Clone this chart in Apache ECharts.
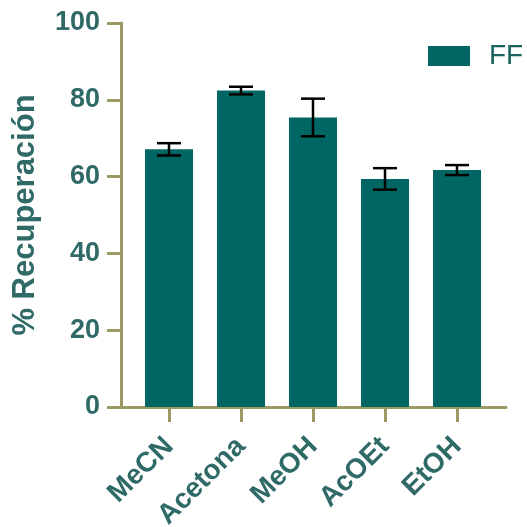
<!DOCTYPE html>
<html>
<head>
<meta charset="utf-8">
<script src="https://cdn.jsdelivr.net/npm/echarts@6/dist/echarts.min.js"></script>
<style>
  html, body { margin: 0; padding: 0; background: #ffffff; }
  #chart { width: 527px; height: 527px; }
</style>
</head>
<body>
<div id="chart"></div>
<script>
// Solvent extraction recovery (mean ± SD)
const categories = ['MeCN', 'Acetona', 'MeOH', 'AcOEt', 'EtOH'];
const recovery = [67.1, 82.4, 75.4, 59.4, 61.7];
const errorSD = [1.6, 1.0, 4.9, 2.8, 1.3];
const yTicks = [0, 20, 40, 60, 80, 100];
const seriesName = 'FF';

const AXIS = '#9c9a64';
const TEXT = '#2f6a67';
const BAR = '#006663';
const FONT = '"Liberation Sans", Arial, sans-serif';

const chart = echarts.init(document.getElementById('chart'));

const errorData = recovery.map((v, i) => [i, v - errorSD[i], v + errorSD[i]]);

chart.setOption({
  animation: false,
  legend: {
    data: [seriesName],
    left: 423, top: 37,
    itemWidth: 42, itemHeight: 20,
    icon: 'rect',
    textStyle: { fontFamily: FONT, fontSize: 28, color: '#1a6360', padding: [0, 0, 0, 14] }
  },
  grid: [
    // outer frame: carries the axis lines and y ticks
    { left: 121, right: 21, top: 23, bottom: 120, outerBoundsMode: 'none', containLabel: false },
    // inner band area for the categories
    { left: 133, width: 360, top: 23, bottom: 120, outerBoundsMode: 'none', containLabel: false }
  ],
  xAxis: [
    {
      gridIndex: 0, type: 'value', min: 0, max: 1,
      axisLine: { show: true, lineStyle: { color: AXIS, width: 3 } },
      axisTick: { show: false }, axisLabel: { show: false }, splitLine: { show: false }
    },
    {
      gridIndex: 1, type: 'category', data: categories,
      axisLine: { show: false },
      axisTick: { show: true, alignWithLabel: true, length: 15, lineStyle: { color: AXIS, width: 3 } },
      axisLabel: {
        rotate: 45, margin: 35, interval: 0,
        fontFamily: FONT, fontSize: 28, fontWeight: 'bold', color: TEXT
      }
    }
  ],
  yAxis: [
    {
      gridIndex: 0, type: 'value', min: 0, max: 100, interval: 20,
      name: '% Recuperación', nameLocation: 'middle', nameGap: 80,
      nameTextStyle: { fontFamily: FONT, fontSize: 31, fontWeight: 'bold', color: TEXT },
      axisLine: { show: true, lineStyle: { color: AXIS, width: 3 } },
      axisTick: { show: true, length: 14, lineStyle: { color: AXIS, width: 3 } },
      axisLabel: {
        margin: 21, fontFamily: FONT, fontSize: 27, fontWeight: 'bold', color: TEXT,
        formatter: v => yTicks.includes(v) ? String(v) : ''
      },
      splitLine: { show: false }
    },
    {
      gridIndex: 1, type: 'value', min: 0, max: 100, show: false
    }
  ],
  series: [
    {
      name: seriesName, type: 'bar',
      xAxisIndex: 1, yAxisIndex: 1,
      data: recovery, barWidth: 48,
      itemStyle: { color: BAR }
    },
    {
      name: 'error', type: 'custom',
      xAxisIndex: 1, yAxisIndex: 1,
      data: errorData,
      z: 5,
      renderItem: function (params, api) {
        const x = api.value(0);
        const lo = api.coord([x, api.value(1)]);
        const hi = api.coord([x, api.value(2)]);
        const half = 12;
        const style = { stroke: '#000', lineWidth: 2.5 };
        return {
          type: 'group',
          children: [
            { type: 'line', shape: { x1: hi[0], y1: hi[1], x2: lo[0], y2: lo[1] }, style },
            { type: 'line', shape: { x1: hi[0] - half, y1: hi[1], x2: hi[0] + half, y2: hi[1] }, style },
            { type: 'line', shape: { x1: lo[0] - half, y1: lo[1], x2: lo[0] + half, y2: lo[1] }, style }
          ]
        };
      }
    }
  ]
});
</script>
</body>
</html>
